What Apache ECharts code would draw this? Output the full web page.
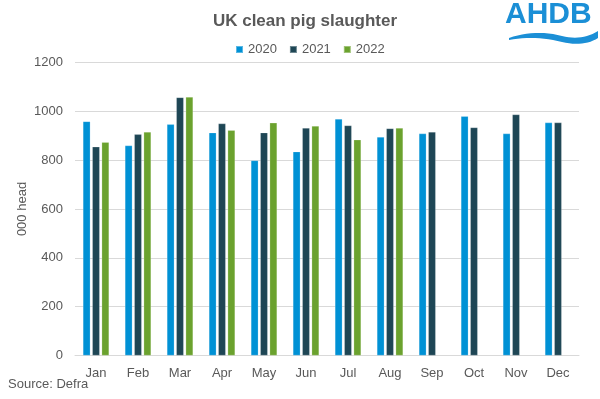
<!DOCTYPE html>
<html>
<head>
<meta charset="utf-8">
<script src="https://cdn.jsdelivr.net/npm/echarts@6/dist/echarts.min.js"></script>
<style>
  html, body { margin: 0; padding: 0; background: #fff; }
  #chart { width: 600px; height: 399px; }
</style>
</head>
<body>
<div id="chart"></div>
<script>
// data (000 head)
const months = ['Jan', 'Feb', 'Mar', 'Apr', 'May', 'Jun', 'Jul', 'Aug', 'Sep', 'Oct', 'Nov', 'Dec']
const y2020 = [959, 860, 947, 913, 799, 835, 969, 895, 909, 980, 909, 954]
const y2021 = [855, 906, 1057, 950, 913, 932, 942, 930, 916, 934, 987, 954]
const y2022 = [874, 916, 1059, 923, 953, 940, 884, 932, null, null, null, null]
const yTicks = [0, 1200, 200]

const font = 'Liberation Sans, Arial, sans-serif'
const grey = '#595959'

const chart = echarts.init(document.getElementById('chart'))

function barSeries(name, data, color) {
  return {
    name: name,
    type: 'bar',
    data: data,
    barWidth: 7.5,
    barGap: '25%',
    itemStyle: { color: color, borderColor: 'rgba(255,255,255,0.35)', borderWidth: 0.6 }
  }
}

// logo swoosh outline (quadratic curves sampled)
function quad(p0, p1, p2, n) {
  const pts = []
  for (let i = 0; i <= n; i++) {
    const t = i / n
    const a = (1 - t) * (1 - t), b = 2 * (1 - t) * t, c = t * t
    pts.push([a * p0[0] + b * p1[0] + c * p2[0], a * p0[1] + b * p1[1] + c * p2[1]])
  }
  return pts
}
const wave = [].concat(
  quad([509, 38], [535, 29], [562, 36], 12),
  quad([562, 36], [582, 41], [598, 31], 12),
  quad([598, 38], [584, 47], [562, 42], 12),
  quad([562, 42], [535, 35], [509, 40], 12)
)

chart.setOption({
  animation: false,
  textStyle: { fontFamily: font },
  title: {
    text: 'UK clean pig slaughter',
    left: 300,
    top: 8,
    textAlign: 'center',
    textStyle: { fontSize: 17, fontWeight: 'bold', color: grey, fontFamily: font }
  },
  legend: {
    data: ['2020', '2021', '2022'],
    left: 230,
    top: 38,
    itemWidth: 7,
    itemHeight: 7,
    itemGap: 12,
    icon: 'rect',
    textStyle: { fontSize: 13, color: grey, fontFamily: font }
  },
  grid: { left: 75, right: 21, top: 62.5, bottom: 43.5 },
  xAxis: {
    type: 'category',
    data: months,
    axisTick: { show: false },
    axisLine: { lineStyle: { color: '#d9d9d9' } },
    axisLabel: { color: grey, fontSize: 13, margin: 11 }
  },
  yAxis: {
    type: 'value',
    min: yTicks[0],
    max: yTicks[1],
    interval: yTicks[2],
    name: '000 head',
    nameLocation: 'middle',
    nameGap: 46,
    nameMoveOverlap: false,
    nameTextStyle: { color: grey, fontSize: 13 },
    axisLine: { show: false },
    axisTick: { show: false },
    axisLabel: { color: grey, fontSize: 13, margin: 12, formatter: v => String(v) },
    splitLine: { lineStyle: { color: '#d9d9d9' } }
  },
  series: [
    barSeries('2020', y2020, '#0091d5'),
    barSeries('2021', y2021, '#1e4655'),
    barSeries('2022', y2022, '#6ba22e')
  ],
  graphic: [
    {
      type: 'text',
      left: 8,
      top: 378,
      style: { text: 'Source: Defra', fontSize: 13, fill: grey, fontFamily: font }
    },
    {
      type: 'text',
      left: 505,
      top: 0,
      style: { text: 'AHDB', fontSize: 30, fontWeight: 'bold', fill: '#1b8fd6', fontFamily: font }
    },
    {
      type: 'polygon',
      shape: { points: wave },
      style: { fill: '#1b8fd6' }
    }
  ]
})
</script>
</body>
</html>
